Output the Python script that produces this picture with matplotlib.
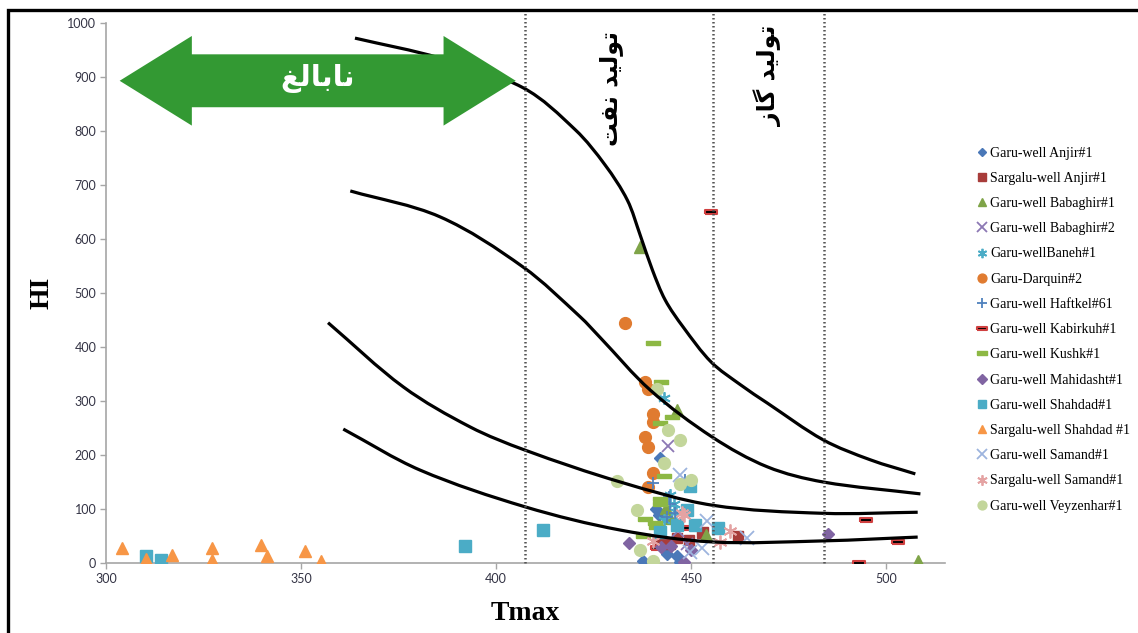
import matplotlib
matplotlib.use("Agg")
import numpy as np
import matplotlib.pyplot as plt
from matplotlib.patches import Polygon, Rectangle, PathPatch
from matplotlib.path import Path

# ---- values (Tmax in degC, HI in mg HC/g TOC) ----
series_labels = [
    "Garu-well Anjir#1", "Sargalu-well Anjir#1", "Garu-well Babaghir#1",
    "Garu-well Babaghir#2", "Garu-wellBaneh#1", "Garu-Darquin#2",
    "Garu-well Haftkel#61", "Garu-well Kabirkuh#1", "Garu-well Kushk#1",
    "Garu-well Mahidasht#1", "Garu-well Shahdad#1", "Sargalu-well Shahdad #1",
    "Garu-well Samand#1", "Sargalu-well Samand#1", "Garu-well Veyzenhar#1",
]

garu_anjir_tmax = [441.9, 441.0, 437.5, 443.8, 446.2, 447.2, 441.6]
garu_anjir_hi = [194, 100, 3, 16, 13, 1, 89]

sargalu_anjir_tmax = [452.7, 449.3, 442.0, 446.3, 462.0, 453.1, 444.5]
sargalu_anjir_hi = [55, 42, 40, 46, 50, 58, 35]

garu_babaghir1_tmax = [436.9, 446.3, 508.2, 444.6, 453.8, 443.6]
garu_babaghir1_hi = [586, 283, 3, 83, 52, 101]

garu_babaghir2_tmax = [444.0, 446.5, 449.0]
garu_babaghir2_hi = [216, 60, 35]

garu_baneh_tmax = [443.1, 444.6, 446.0, 443.0, 445.5]
garu_baneh_hi = [305, 126, 95, 80, 110]

garu_darquin_tmax = [432.9, 438.2, 438.9, 440.2, 440.1, 438.0, 438.9, 440.2, 438.8]
garu_darquin_hi = [444, 336, 323, 276, 262, 234, 215, 167, 141]

garu_haftkel_tmax = [440.3, 444.2, 444.6, 445.9, 443.8, 448.5]
garu_haftkel_hi = [148, 123, 110, 92, 86, 154]

garu_kabirkuh_tmax = [455.0, 448.9, 441.2, 494.8, 503.0, 492.9]
garu_kabirkuh_hi = [650, 65, 28, 80, 39, 0]

garu_kushk_tmax = [440.2, 442.1, 445.0, 442.0, 442.9, 442.0, 442.0, 438.2, 440.8, 441.0, 437.6]
garu_kushk_hi = [408, 335, 270, 260, 161, 118, 109, 81, 75, 67, 50]

garu_mahidasht_tmax = [433.9, 442.2, 444.8, 449.9, 448.2, 485.0]
garu_mahidasht_hi = [37, 30, 32, 24, 1, 53]

garu_shahdad_tmax = [310.3, 314.1, 392.0, 411.9, 449.7, 448.9, 446.2, 442.0, 451.0, 456.9]
garu_shahdad_hi = [13, 6, 32, 62, 142, 99, 71, 58, 70, 64]

sargalu_shahdad_tmax = [304.0, 310.3, 317.0, 327.1, 327.1, 339.7, 341.2, 351.0, 355.1]
sargalu_shahdad_hi = [28, 7, 15, 27, 5, 34, 13, 23, 3]

garu_samand_tmax = [447.2, 454.0, 452.7, 449.7, 464.3]
garu_samand_hi = [163, 77, 28, 21, 47]

sargalu_samand_tmax = [448.0, 440.3, 460.0, 457.4, 447.6]
sargalu_samand_hi = [89, 41, 60, 38, 92]

garu_veyzenhar_tmax = [441.2, 443.9, 447.2, 442.9, 447.2, 449.9, 430.9, 436.1, 436.9, 440.3]
garu_veyzenhar_hi = [323, 246, 228, 185, 146, 154, 151, 99, 24, 4]

# kerogen boundary curves (drawn smoothed, like the spreadsheet)
curve_a_tmax = [363.8, 385.6, 406.9, 420.3, 427.9, 433.6, 436.9, 440.0, 443.3, 447.9,
                455.1, 462.6, 469.5, 483.8, 495.9, 507.4]
curve_a_hi = [972, 935, 880, 802, 737, 672, 607, 543, 487, 437,
              372, 330, 296, 228, 191, 165]
curve_b_tmax = [362.6, 385.6, 406.9, 421.5, 426.7, 439.5, 455.4, 469.5, 483.8, 508.7]
curve_b_hi = [689, 641, 548, 456, 417, 320, 233, 178, 150, 128]
curve_c_tmax = [356.9, 376.2, 393.3, 407.4, 431.8, 455.4, 483.8, 508.0]
curve_c_hi = [445, 326, 252, 209, 150, 107, 92, 94]
curve_d_tmax = [360.8, 380.5, 407.4, 431.8, 455.4, 484.0, 508.0]
curve_d_hi = [248, 172, 104, 61, 39, 41, 48]

zone_lines = [407.5, 455.5, 484.0]
x_ticks = [300, 350, 400, 450, 500]
y_ticks = [0, 100, 200, 300, 400, 500, 600, 700, 800, 900, 1000]

# Persian labels, pre-shaped (presentation forms, visual order)
label_immature = "\uFECE\uFEDF\uFE8E\uFE91\uFE8E\uFEE7"                       # نابالغ
label_oil = "\uFE96\uFED4\uFEE7 \uFEAA\uFEF4\uFEDF\uFEEE\uFE97"               # تولید نفت
label_gas = "\uFEAF\uFE8E\uFB94 \uFEAA\uFEF4\uFEDF\uFEEE\uFE97"               # تولید گاز

series_data = [
    (garu_anjir_tmax, garu_anjir_hi), (sargalu_anjir_tmax, sargalu_anjir_hi),
    (garu_babaghir1_tmax, garu_babaghir1_hi), (garu_babaghir2_tmax, garu_babaghir2_hi),
    (garu_baneh_tmax, garu_baneh_hi), (garu_darquin_tmax, garu_darquin_hi),
    (garu_haftkel_tmax, garu_haftkel_hi), (garu_kabirkuh_tmax, garu_kabirkuh_hi),
    (garu_kushk_tmax, garu_kushk_hi), (garu_mahidasht_tmax, garu_mahidasht_hi),
    (garu_shahdad_tmax, garu_shahdad_hi), (sargalu_shahdad_tmax, sargalu_shahdad_hi),
    (garu_samand_tmax, garu_samand_hi), (sargalu_samand_tmax, sargalu_samand_hi),
    (garu_veyzenhar_tmax, garu_veyzenhar_hi),
]

# ---- styles ----
dash = [(-1, -0.32), (1, -0.32), (1, 0.32), (-1, 0.32), (-1, -0.32)]
star6 = (6, 2, 0)
styles = [
    dict(marker="D", ms=6, mfc="#4A78B8", mec="#4A78B8"),
    dict(marker="s", ms=7.5, mfc="#A83C3A", mec="#A83C3A"),
    dict(marker="^", ms=8, mfc="#7FA448", mec="#7FA448"),
    dict(marker="x", ms=9, mfc="none", mec="#8C78B4", mew=1.3),
    dict(marker=star6, ms=9, mfc="none", mec="#4BACC6", mew=1.3),
    dict(marker="o", ms=8.5, mfc="#E07B30", mec="#E07B30"),
    dict(marker="+", ms=9, mfc="none", mec="#4F81BD", mew=1.3),
    dict(marker=dash, ms=9, mfc="black", mec="#D04040", mew=1.5),
    dict(marker=dash, ms=10, mfc="#8DB844", mec="#8DB844"),
    dict(marker="D", ms=6.5, mfc="#8064A2", mec="#8064A2"),
    dict(marker="s", ms=8, mfc="#4BACC6", mec="#4BACC6"),
    dict(marker="^", ms=8.5, mfc="#F79646", mec="#F79646"),
    dict(marker="x", ms=10, mfc="none", mec="#9DB4DE", mew=1.3),
    dict(marker=star6, ms=10, mfc="none", mec="#E4A3A3", mew=1.3),
    dict(marker="o", ms=8.5, mfc="#C3D69B", mec="#C3D69B"),
]

XLIM = (300, 515)
YLIM = (0, 1000)
AX_W, AX_H = 945 - 106, 563 - 23   # plot area in pixels


def smooth_path(xs, ys):
    # bezier through the points, tangents taken in screen proportions
    sx = AX_W / (XLIM[1] - XLIM[0])
    sy = AX_H / (YLIM[1] - YLIM[0])
    p = np.column_stack([np.asarray(xs) * sx, np.asarray(ys) * sy])
    n = len(p)
    tang = np.zeros_like(p)
    for i in range(n):
        a = p[max(i - 1, 0)]
        b = p[min(i + 1, n - 1)]
        t = b - a
        tang[i] = t / np.hypot(*t)
    verts = [p[0]]
    codes = [Path.MOVETO]
    for i in range(n - 1):
        d = np.hypot(*(p[i + 1] - p[i])) / 3.0
        verts += [p[i] + tang[i] * d, p[i + 1] - tang[i + 1] * d, p[i + 1]]
        codes += [Path.CURVE4] * 3
    verts = np.array(verts) / [sx, sy]
    return Path(verts, codes)


fig = plt.figure(figsize=(11.38, 6.33), dpi=100)
ax = fig.add_axes([106 / 1138, 1 - 563 / 633, AX_W / 1138, AX_H / 633])

handles = []
for (tx, hi), st, name in zip(series_data, styles, series_labels):
    h, = ax.plot(tx, hi, linestyle="none", label=name, zorder=3, **st)
    handles.append(h)

for cx, cy in [(curve_a_tmax, curve_a_hi), (curve_b_tmax, curve_b_hi),
               (curve_c_tmax, curve_c_hi), (curve_d_tmax, curve_d_hi)]:
    ax.add_patch(PathPatch(smooth_path(cx, cy), fill=False, ec="black", lw=2.3,
                           zorder=4, capstyle="butt"))

for zx in zone_lines:
    ax.plot([zx, zx], [0, 1018], color="#555555", lw=1.8, linestyle=(0, (0.6, 1.0)),
            clip_on=False, zorder=5)

# double headed green arrow ("immature")
ax_l, ax_r, yc = 303.5, 405.0, 893
head_len, head_half, shaft_half = 18.5, 83, 49
arrow_pts = [
    (ax_l, yc), (ax_l + head_len, yc + head_half), (ax_l + head_len, yc + shaft_half),
    (ax_r - head_len, yc + shaft_half), (ax_r - head_len, yc + head_half), (ax_r, yc),
    (ax_r - head_len, yc - head_half), (ax_r - head_len, yc - shaft_half),
    (ax_l + head_len, yc - shaft_half), (ax_l + head_len, yc - head_half),
]
ax.add_patch(Polygon(arrow_pts, closed=True, fc="#339933", ec="none", zorder=6, clip_on=False))
ax.text((ax_l + ax_r) / 2, yc + 5, label_immature, color="white", fontsize=21,
        fontweight="bold", family="DejaVu Sans", ha="center", va="center", zorder=7)

ax.text(429.3, 878, label_oil, rotation=90, fontsize=17, fontweight="bold",
        family="DejaVu Sans", ha="center", va="center", zorder=7)
ax.text(469.7, 902, label_gas, rotation=90, fontsize=17, fontweight="bold",
        family="DejaVu Sans", ha="center", va="center", zorder=7)

ax.set_xlim(*XLIM)
ax.set_ylim(*YLIM)
ax.set_xticks(x_ticks)
ax.set_yticks(y_ticks)
for s in ["top", "right"]:
    ax.spines[s].set_visible(False)
for s in ["left", "bottom"]:
    ax.spines[s].set_color("#a6a6a6")
    ax.spines[s].set_linewidth(1.2)
ax.tick_params(direction="out", length=4, width=1, color="#a6a6a6",
               labelsize=9, labelcolor="#333344", pad=3)
for lb in ax.get_xticklabels() + ax.get_yticklabels():
    lb.set_family("Lato")

ax.set_xlabel("Tmax", family="Liberation Serif", fontsize=20, fontweight="bold", labelpad=12)
ax.set_ylabel("HI", family="Liberation Serif", fontsize=20, fontweight="bold", labelpad=9)

leg = fig.legend(handles=handles, loc="upper left", bbox_to_anchor=(972 / 1138, 1 - 141 / 633),
                 frameon=False, prop={"family": "Liberation Serif", "size": 10},
                 labelspacing=0.88, handlelength=0.6, handletextpad=0.3, markerscale=0.75,
                 borderaxespad=0)

# outer frame of the picture
fig.patches.append(Rectangle((8 / 1138, -0.05), 1.2, 1 - 10 / 633 + 0.05,
                             transform=fig.transFigure, fill=False, ec="black", lw=2.4))

fig.savefig("out.png", dpi=100)
